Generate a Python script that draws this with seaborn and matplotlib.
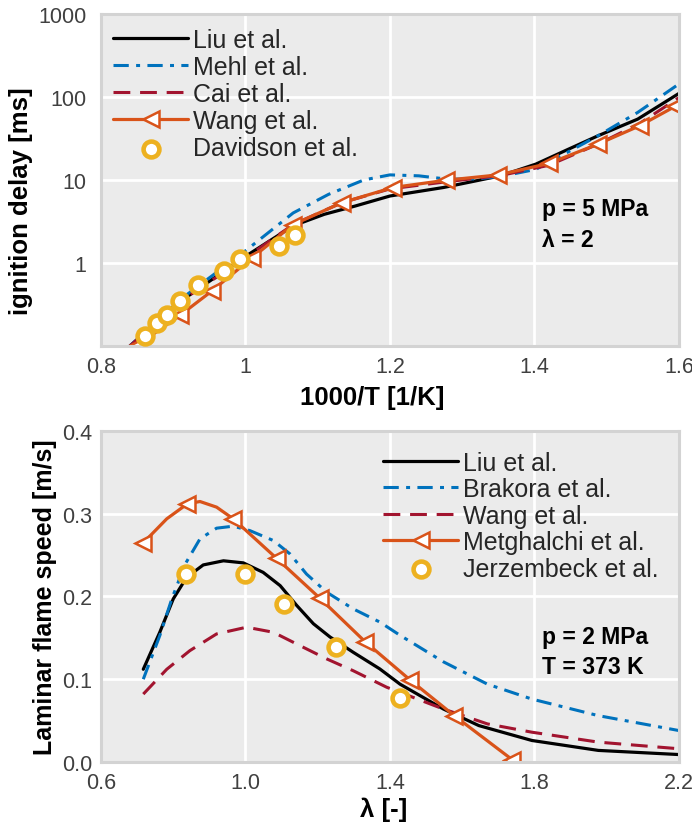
import matplotlib
matplotlib.use("Agg")
import matplotlib.pyplot as plt
import seaborn as sns

# ---------------- data: ignition delay (top) ----------------
liu_x = [0.84, 0.913, 1.0, 1.066, 1.109, 1.152, 1.2, 1.274, 1.353, 1.402, 1.445, 1.488, 1.543, 1.6]
liu_y = [0.1, 0.36, 1.2, 2.8, 3.85, 4.85, 6.4, 8.1, 11.2, 15.5, 23, 34, 54, 110]

mehl_x = [0.84, 0.913, 1.0, 1.066, 1.115, 1.164, 1.2, 1.24, 1.28, 1.32, 1.353, 1.402, 1.488, 1.543, 1.6]
mehl_y = [0.1, 0.38, 1.4, 4.0, 6.7, 10.0, 11.5, 11.2, 10.2, 10.3, 11.0, 13.4, 34, 65, 143]

cai_x = [0.84, 0.913, 1.0, 1.066, 1.133, 1.2, 1.274, 1.353, 1.42, 1.488, 1.546, 1.6]
cai_y = [0.1, 0.36, 1.15, 2.9, 5.3, 7.8, 9.4, 11.3, 15.0, 27, 48, 98]

wang_x = [0.849, 0.91, 0.953, 1.009, 1.066, 1.133, 1.204, 1.277, 1.35, 1.42, 1.488, 1.546, 1.595]
wang_y = [0.1, 0.236, 0.456, 1.15, 2.9, 5.3, 8.1, 9.9, 11.5, 15.8, 27, 45, 77]

dav_x = [0.861, 0.878, 0.892, 0.909, 0.934, 0.970, 0.993, 1.047, 1.069]
dav_y = [0.131, 0.189, 0.238, 0.345, 0.548, 0.79, 1.12, 1.59, 2.19]

top_xticks = [0.8, 1.0, 1.2, 1.4, 1.6]
top_xlabels = ["0.8", "1", "1.2", "1.4", "1.6"]
top_yticks = [1, 10, 100, 1000]
top_ylabels = ["1", "10", "100", "1000"]

# ---------------- data: laminar flame speed (bottom) ----------------
bliu_x = [0.717, 0.763, 0.80, 0.837, 0.883, 0.939, 0.994, 1.049, 1.096, 1.142, 1.188, 1.234, 1.298,
          1.372, 1.428, 1.548, 1.646, 1.793, 1.977, 2.2]
bliu_y = [0.112, 0.157, 0.197, 0.223, 0.238, 0.243, 0.2405, 0.229, 0.213, 0.189, 0.167, 0.151, 0.1326,
          0.1124, 0.094, 0.064, 0.044, 0.026, 0.014, 0.009]

brak_x = [0.717, 0.763, 0.796, 0.833, 0.874, 0.92, 0.966, 1.012, 1.077, 1.123, 1.169, 1.225, 1.298,
          1.372, 1.428, 1.548, 1.67, 1.793, 1.977, 2.2]
brak_y = [0.1, 0.153, 0.197, 0.239, 0.2695, 0.2824, 0.2848, 0.2795, 0.2675, 0.2514, 0.227, 0.205, 0.185,
          0.169, 0.153, 0.121, 0.094, 0.076, 0.056, 0.038]

bwang_x = [0.717, 0.782, 0.846, 0.92, 1.003, 1.077, 1.151, 1.225, 1.298, 1.391, 1.548, 1.67, 1.793, 1.977, 2.2]
bwang_y = [0.082, 0.112, 0.1345, 0.1547, 0.1628, 0.1567, 0.1405, 0.1245, 0.1103, 0.0903, 0.064, 0.046,
           0.036, 0.024, 0.016]

metg_x = [0.717, 0.782, 0.839, 0.874, 0.92, 0.966, 1.086, 1.206, 1.331, 1.456, 1.578, 1.738]
metg_y = [0.2647, 0.2937, 0.3118, 0.3146, 0.3078, 0.2937, 0.246, 0.1978, 0.1454, 0.099, 0.056, 0.003]
metg_markers = [0, 2, 5, 6, 7, 8, 9, 10, 11]

jerz_x = [0.834, 1.0, 1.108, 1.251, 1.429]
jerz_y = [0.2272, 0.2272, 0.191, 0.1394, 0.077]

bot_xticks = [0.6, 1.0, 1.4, 1.8, 2.2]
bot_xlabels = ["0.6", "1.0", "1.4", "1.8", "2.2"]
bot_yticks = [0.0, 0.1, 0.2, 0.3, 0.4]
bot_ylabels = ["0.0", "0.1", "0.2", "0.3", "0.4"]

# ---------------- style ----------------
sns.set_theme(style="darkgrid")
plt.rcParams['font.family'] = ['Liberation Sans', 'DejaVu Sans']

BLACK = "black"
BLUE = "#0072BD"
RED = "#A2142F"
ORANGE = "#D95319"
YELLOW = "#EDB120"
FACE = "#EBEBEB"
SPINE = "#D3D3D3"
TICKC = "#404040"

DASHDOT = (0, (5, 2.4, 1.3, 2.4))
DASHED = (0, (5.5, 3.2))

fig = plt.figure(figsize=(6.92, 8.28), dpi=100)
ax1 = fig.add_axes([0.146, 0.581, 0.835, 0.401])
ax2 = fig.add_axes([0.146, 0.0785, 0.835, 0.400])

for ax in (ax1, ax2):
    ax.set_facecolor(FACE)
    for s in ax.spines.values():
        s.set_visible(True)
        s.set_color(SPINE)
        s.set_linewidth(2.2)
    ax.grid(True, color="white", linewidth=2.0)
    ax.tick_params(axis="both", length=0, labelsize=15.5, labelcolor=TICKC)
    ax.tick_params(axis="x", pad=7)
ax1.tick_params(axis="y", pad=10.5)
ax2.tick_params(axis="y", pad=6.5)

# ---------------- top plot ----------------
sns.lineplot(x=liu_x, y=liu_y, ax=ax1, color=BLACK, linewidth=2.3, label="Liu et al.", sort=False)
sns.lineplot(x=mehl_x, y=mehl_y, ax=ax1, color=BLUE, linewidth=2.2, linestyle=DASHDOT, label="Mehl et al.", sort=False)
sns.lineplot(x=cai_x, y=cai_y, ax=ax1, color=RED, linewidth=2.2, linestyle=DASHED, label="Cai et al.", sort=False)
sns.lineplot(x=wang_x, y=wang_y, ax=ax1, color=ORANGE, linewidth=2.3, marker="<", markersize=11,
             markerfacecolor="white", markeredgecolor=ORANGE, markeredgewidth=1.8,
             label="Wang et al.", sort=False)
sns.scatterplot(x=dav_x, y=dav_y, ax=ax1, s=130, facecolor="white", edgecolor=YELLOW,
                linewidth=3.3, label="Davidson et al.", zorder=5)

ax1.set_yscale("log")
ax1.set_xlim(0.8, 1.6)
ax1.set_ylim(0.1, 1000)
ax1.set_xticks(top_xticks)
ax1.set_xticklabels(top_xlabels)
ax1.set_yticks(top_yticks)
ax1.set_yticklabels(top_ylabels)
ax1.yaxis.set_minor_locator(plt.NullLocator())
ax1.set_xlabel("1000/T [1/K]", fontsize=18.5, fontweight="bold", color="black")
ax1.set_ylabel("ignition delay [ms]", fontsize=18.5, fontweight="bold", color="black")
ax1.xaxis.set_label_coords(0.469, -0.118)
ax1.yaxis.set_label_coords(-0.117, 0.44)

ax1.legend(loc="upper left", bbox_to_anchor=(0.021, 0.957), frameon=False, fontsize=18,
           handlelength=3.0, handletextpad=0.2, labelspacing=0.12, borderpad=0, borderaxespad=0,
           scatterpoints=1)
ax1.text(0.763, 0.413, "p = 5 MPa", transform=ax1.transAxes, fontsize=16.5, fontweight="bold",
         va="center", ha="left", color="black")
ax1.text(0.763, 0.322, "λ = 2", transform=ax1.transAxes, fontsize=16.5, fontweight="bold",
         va="center", ha="left", color="black")

# ---------------- bottom plot ----------------
sns.lineplot(x=bliu_x, y=bliu_y, ax=ax2, color=BLACK, linewidth=2.3, label="Liu et al.", sort=False)
sns.lineplot(x=brak_x, y=brak_y, ax=ax2, color=BLUE, linewidth=2.2, linestyle=DASHDOT, label="Brakora et al.", sort=False)
sns.lineplot(x=bwang_x, y=bwang_y, ax=ax2, color=RED, linewidth=2.2, linestyle=DASHED, label="Wang et al.", sort=False)
sns.lineplot(x=metg_x, y=metg_y, ax=ax2, color=ORANGE, linewidth=2.3, marker="<", markersize=11,
             markevery=metg_markers, markerfacecolor="white", markeredgecolor=ORANGE,
             markeredgewidth=1.8, label="Metghalchi et al.", sort=False)
sns.scatterplot(x=jerz_x, y=jerz_y, ax=ax2, s=130, facecolor="white", edgecolor=YELLOW,
                linewidth=3.3, label="Jerzembeck et al.", zorder=5)

ax2.set_xlim(0.6, 2.2)
ax2.set_ylim(0.0, 0.4)
ax2.set_xticks(bot_xticks)
ax2.set_xticklabels(bot_xlabels)
ax2.set_yticks(bot_yticks)
ax2.set_yticklabels(bot_ylabels)
ax2.set_xlabel("λ [-]", fontsize=18.5, fontweight="bold", color="black")
ax2.set_ylabel("Laminar flame speed [m/s]", fontsize=18, fontweight="bold", color="black")
ax2.xaxis.set_label_coords(0.49, -0.103)
ax2.yaxis.set_label_coords(-0.077, 0.5)

ax2.legend(loc="upper left", bbox_to_anchor=(0.488, 0.94), frameon=False, fontsize=18,
           handlelength=3.0, handletextpad=0.2, labelspacing=0.1, borderpad=0, borderaxespad=0,
           scatterpoints=1)
ax2.text(0.763, 0.378, "p = 2 MPa", transform=ax2.transAxes, fontsize=16.5, fontweight="bold",
         va="center", ha="left", color="black")
ax2.text(0.763, 0.287, "T = 373 K", transform=ax2.transAxes, fontsize=16.5, fontweight="bold",
         va="center", ha="left", color="black")

fig.savefig("out.png", dpi=100)
